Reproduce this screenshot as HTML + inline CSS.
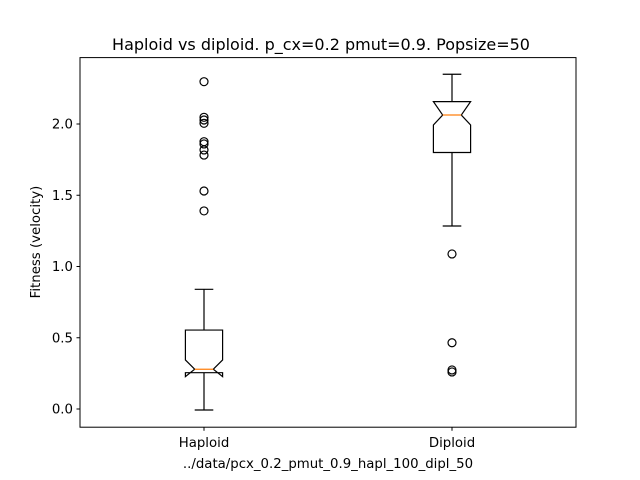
<!DOCTYPE html>
<html><head><meta charset="utf-8"><style>body{margin:0;background:#fff}svg{display:block;font-family:"DejaVu Sans","Liberation Sans",sans-serif}</style></head>
<body>
<svg id="chart" width="640" height="480" xmlns="http://www.w3.org/2000/svg">
<rect width="640" height="480" fill="#fff"/>
<text x="321" y="50" text-anchor="middle" font-size="16">Haploid vs diploid. p_cx=0.2 pmut=0.9. Popsize=50</text>
<text x="328" y="468" text-anchor="middle" font-size="13.3">../data/pcx_0.2_pmut_0.9_hapl_100_dipl_50</text>
<text transform="translate(40,242) rotate(-90)" text-anchor="middle" font-size="13.3">Fitness (velocity)</text>
<g id="marks"></g>
<rect x="80" y="57.6" width="496" height="369.6" fill="none" stroke="#000" stroke-width="1"/>
</svg>
<script>
const categories = ["Haploid", "Diploid"];
const q1 = [0.255, 1.80];
const median = [0.279, 2.063];
const q3 = [0.554, 2.157];
const notchLow = [0.227, 1.993];
const notchHigh = [0.344, 2.157];
const whiskerLow = [-0.007, 1.284];
const whiskerHigh = [0.84, 2.349];
const outliersHaploid = [2.297, 2.047, 2.028, 2.005, 1.876, 1.86, 1.818, 1.782, 1.53, 1.39];
const outliersDiploid = [1.088, 0.465, 0.274, 0.26];
const yTicks = [0.0, 0.5, 1.0, 1.5, 2.0];
const yTickLabels = ["0.0", "0.5", "1.0", "1.5", "2.0"];

const NS = "http://www.w3.org/2000/svg";
const g = document.getElementById("marks");
const svg = document.getElementById("chart");
function y(v){ return 409 - 142.5 * v; }
function x(i){ return 80 + 496 * (0.25 + 0.5 * i); }
function mk(tag, attrs, parent){ const e = document.createElementNS(NS, tag); for (const k in attrs) e.setAttribute(k, attrs[k]); (parent||g).appendChild(e); return e; }

yTicks.forEach((t, i) => {
  const tk = mk("line", {x1: 76.5, x2: 80, y1: y(t), y2: y(t), stroke: "#000"}, svg);
  
  
  const lb = mk("text", {x: 73, y: y(t) + 4.5, "text-anchor": "end", "font-size": "13.3"}, svg);
  
  
  lb.textContent = yTickLabels[i];
});

const outliers = [outliersHaploid, outliersDiploid];
categories.forEach((c, i) => {
  const cx = x(i), hw = 18.6, nw = 9.3;
  const tk = mk("line", {x1: cx, x2: cx, y1: 427.2, y2: 430.7, stroke: "#000"}, svg);
  
  
  const lb = mk("text", {x: cx, y: 447, "text-anchor": "middle", "font-size": "13.3"}, svg);
  
  
  lb.textContent = c;

  const grp = mk("g", {});
  
  
  const L = cx - hw, R = cx + hw, iL = cx - nw, iR = cx + nw;
  const d = `M${L},${y(q1[i])} L${L},${y(notchLow[i])} L${iL},${y(median[i])} L${L},${y(notchHigh[i])} L${L},${y(q3[i])} L${R},${y(q3[i])} L${R},${y(notchHigh[i])} L${iR},${y(median[i])} L${R},${y(notchLow[i])} L${R},${y(q1[i])} Z`;
  const box = mk("path", {d: d, fill: "none", stroke: "#000", "stroke-width": 1.2}, grp);
  
  
  const med = mk("line", {x1: iL, x2: iR, y1: y(median[i]), y2: y(median[i]), stroke: "#ff7f0e", "stroke-width": 1.2}, grp);
  
  
  [[q1[i], whiskerLow[i]], [q3[i], whiskerHigh[i]]].forEach(p => {
    const w = mk("line", {x1: cx, x2: cx, y1: y(p[0]), y2: y(p[1]), stroke: "#000", "stroke-width": 1.2}, grp);
    
    
    const cap = mk("line", {x1: cx - nw, x2: cx + nw, y1: y(p[1]), y2: y(p[1]), stroke: "#000", "stroke-width": 1.2}, grp);
    
    
  });
  outliers[i].forEach(v => {
    const o = mk("circle", {cx: cx, cy: y(v), r: 4, fill: "none", stroke: "#000", "stroke-width": 1.2}, grp);
    
    
  });
});
</script>
</body></html>
